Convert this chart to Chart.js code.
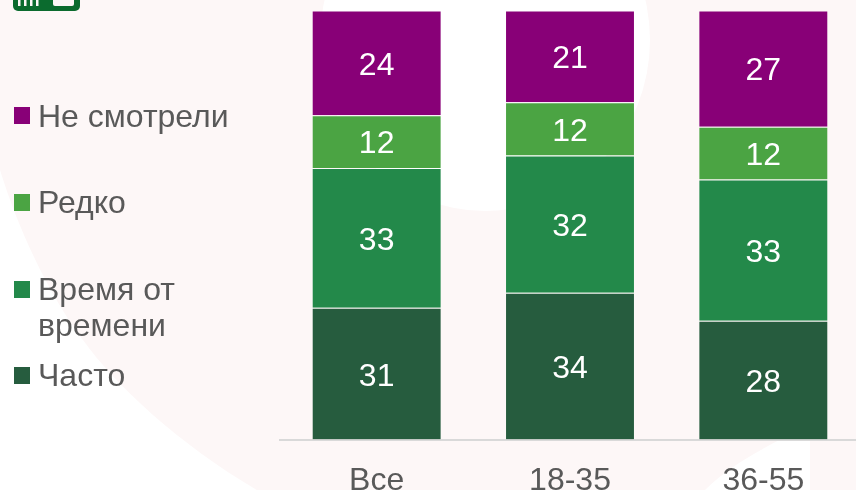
<!DOCTYPE html>
<html>
  <head>
    <meta charset="utf-8" />
    <title>Смотрели</title>
    <style>
      html, body { margin: 0; padding: 0; background: #fdf7f7; }
      #stage { position: relative; width: 856px; height: 490px; overflow: hidden; font-family: "Liberation Sans", Arial, sans-serif; }
      #bg { position: absolute; left: 0; top: 0; }
      #myChart { position: absolute; left: 0; top: 0; }
      .key { position: absolute; left: 38px; font-size: 32px; line-height: 36px; color: #595959; white-space: pre; }
      .swatch { position: absolute; left: 14px; width: 16px; height: 17px; }
    </style>
  </head>
  <body>
    <div id="stage">
      <svg id="bg" width="856" height="490">
        <path d="M0,170 C25,250 60,310 83,340 C115,385 180,445 257,490 L0,490 Z" fill="#fff" />
        <ellipse cx="485" cy="40" rx="165" ry="171" fill="#fff" />
        <path d="M705,490 C725,470 750,455 785,437 L810,437 L810,490 Z" fill="#fff" />
        <rect x="13" y="-10" width="67" height="21" rx="5" fill="#0b6b2e" />
        <rect x="18" y="-2" width="2.5" height="8" fill="#fdf7f7" />
        <rect x="24" y="-2" width="2.5" height="8" fill="#fdf7f7" />
        <rect x="30" y="-2" width="2.5" height="8" fill="#fdf7f7" />
        <rect x="36" y="-2" width="2.5" height="8" fill="#fdf7f7" />
        <rect x="53" y="-8" width="21" height="14" rx="2" fill="#fdf7f7" />
      </svg>
      <canvas id="myChart" width="870" height="522"></canvas>
      <div id="legend"></div>
    </div>

    <script src="https://cdn.jsdelivr.net/npm/chart.js@4"></script>
    <script>
      const categories = ["Все", "18-35", "36-55"];
      const seriesNames = ["Часто", "Время от времени", "Редко", "Не смотрели"];
      const often = [30.7, 34.2, 27.7];
      const sometimes = [32.6, 32.0, 32.9];
      const rarely = [12.3, 12.4, 12.3];
      const never = [24.4, 21.4, 27.1];
      const seriesColors = ["#265c3e", "#23894a", "#4ba443", "#880077"];

      // подписи внутри столбиков
      const barLabels = {
        id: "barLabels",
        afterDatasetsDraw(chart) {
          const ctx = chart.ctx;
          ctx.save();
          ctx.font = '32px "Liberation Sans", Arial, sans-serif';
          ctx.fillStyle = "#fff";
          ctx.textAlign = "center";
          ctx.textBaseline = "middle";
          chart.data.datasets.forEach((ds, i) => {
            chart.getDatasetMeta(i).data.forEach((bar, j) => {
              const c = bar.getCenterPoint();
              ctx.fillText(Math.round(ds.data[j]), c.x, c.y + 3);
            });
          });
          ctx.restore();
        },
      };

      const ctx = document.getElementById("myChart").getContext("2d");
      new Chart(ctx, {
        type: "bar",
        data: {
          labels: categories,
          datasets: [often, sometimes, rarely, never].map((values, i) => ({
            label: seriesNames[i],
            data: values,
            backgroundColor: seriesColors[i],
            borderColor: "rgba(255,255,255,0.15)",
            borderWidth: 1,
            categoryPercentage: 1,
            barPercentage: 0.672,
          })),
        },
        options: {
          responsive: false,
          animation: false,
          layout: { padding: { left: 280, top: 10.5, right: 10, bottom: 0 } },
          plugins: { legend: { display: false }, tooltip: { enabled: false } },
          scales: {
            x: {
              stacked: true,
              grid: { display: false, drawTicks: false },
              border: { color: "#d9d9d9", width: 2 },
              ticks: {
                color: "#595959",
                padding: 22,
                font: { family: '"Liberation Sans", Arial, sans-serif', size: 32 },
              },
            },
            y: { stacked: true, min: 0, max: 100, display: false },
          },
        },
        plugins: [barLabels],
      });

      // легенда слева, порядок обратный стопке
      const legendRows = [
        { i: 3, top: 107, textTop: 98, text: "Не смотрели" },
        { i: 2, top: 194, textTop: 184, text: "Редко" },
        { i: 1, top: 281, textTop: 271, text: "Время от\nвремени" },
        { i: 0, top: 367, textTop: 357, text: "Часто" },
      ];
      const legend = document.getElementById("legend");
      legendRows.forEach((row) => {
        const sw = document.createElement("div");
        sw.className = "swatch";
        sw.style.top = row.top + "px";
        sw.style.background = seriesColors[row.i];
        legend.appendChild(sw);
        const t = document.createElement("div");
        t.className = "key";
        t.style.top = row.textTop + "px";
        t.textContent = row.text;
        legend.appendChild(t);
      });
    </script>
  </body>
</html>
